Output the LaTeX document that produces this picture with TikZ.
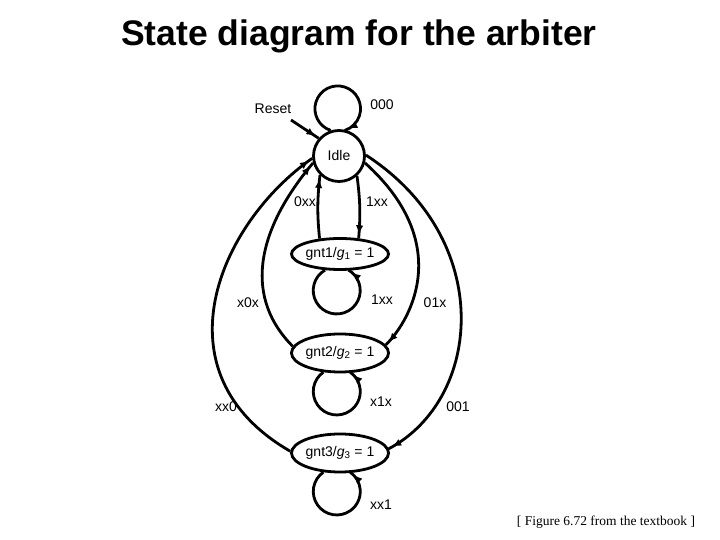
\documentclass[tikz,border=0pt]{standalone}
\usepackage{fontspec}
\setmainfont{Liberation Sans}
\newfontfamily\capserif{Liberation Serif}
\usetikzlibrary{arrows.meta, shapes.geometric, decorations.markings}

\newcommand{\lblsize}{\fontsize{14bp}{16bp}\selectfont}

\begin{document}
\begin{tikzpicture}[x=1bp, y=1bp,
  state/.style={draw, line width=2.8bp, font=\lblsize, inner sep=0pt},
  idlestate/.style={state, circle, minimum size=51bp},
  gntstate/.style={state, ellipse, minimum width=95bp, minimum height=38bp},
  trans/.style={line width=2.8bp, postaction={decorate},
    decoration={markings, mark=at position -4bp with {\arrow{Latex[length=9bp,width=7.5bp]}}}},
  lbl/.style={font=\lblsize, inner sep=1bp}]
  \useasboundingbox (0,0) rectangle (720,540);

  % Title
  \node[font=\fontsize{35.5bp}{40bp}\selectfont\bfseries, anchor=base] (title) at (359,494) {State diagram for the arbiter};

  % States
  \node[idlestate] (idle) at (339,384) {Idle};
  \node[gntstate, minimum height=31bp] (gnt1) at (340,286) {gnt1/\textit{g}\textsubscript{1} = 1};
  \node[gntstate] (gnt2) at (340,187) {gnt2/\textit{g}\textsubscript{2} = 1};
  \node[gntstate] (gnt3) at (340,87) {gnt3/\textit{g}\textsubscript{3} = 1};

  % Reset
  \node[lbl] (reset) at (273,431) {Reset};
  \coordinate (rstin) at (291,420);
  \draw[trans] (rstin) -- (idle.139);

  % Self loops
  \draw[trans] (idle.108) arc[start angle=252, end angle=-72, radius=22.8];
  \draw[trans] (gnt1.227) arc[start angle=120, end angle=420, radius=23.5];
  \draw[trans] (gnt2.229) arc[start angle=125, end angle=415, radius=23.5];
  \draw[trans] (gnt3.229) arc[start angle=125, end angle=415, radius=23.5];

  % Idle <-> gnt1
  \draw[trans] (gnt1.143) to[bend left=6] (idle.225);
  \draw[trans] (idle.312) to[bend left=6] (gnt1.40);

  % Back to idle
  \draw[trans] (gnt2.172) to[out=135, in=230, out distance=66bp, in distance=94bp] (idle.195);
  \draw[trans] (gnt3.178) to[out=150, in=215, out distance=157bp, in distance=114bp] (idle.185);

  % Idle to gnt2 and gnt3
  \draw[trans] (idle.345) to[out=-42, in=45, out distance=118bp, in distance=38bp] (gnt2.10);
  \draw[trans] (idle.2) to[out=-33, in=28, out distance=155bp, in distance=106bp] (gnt3.5);

  % Labels
  \node[lbl] (l000) at (382,435) {000};
  \node[lbl] (l0xx) at (305,338) {0xx};
  \node[lbl] (l1xx) at (377,338) {1xx};
  \node[lbl] (l1xxs) at (382,240) {1xx};
  \node[lbl] (lx0x) at (248,237) {x0x};
  \node[lbl] (l01x) at (435,237) {01x};
  \node[lbl] (lx1x) at (381,138) {x1x};
  \node[lbl] (lxx0) at (226,133) {xx0};
  \node[lbl] (l001) at (458,133) {001};
  \node[lbl] (lxx1) at (381,35) {xx1};

  % Caption
  \node[font=\capserif\fontsize{13.5bp}{16bp}\selectfont] (caption) at (606,18) {[ Figure 6.72 from the textbook ]};
\end{tikzpicture}
\end{document}
